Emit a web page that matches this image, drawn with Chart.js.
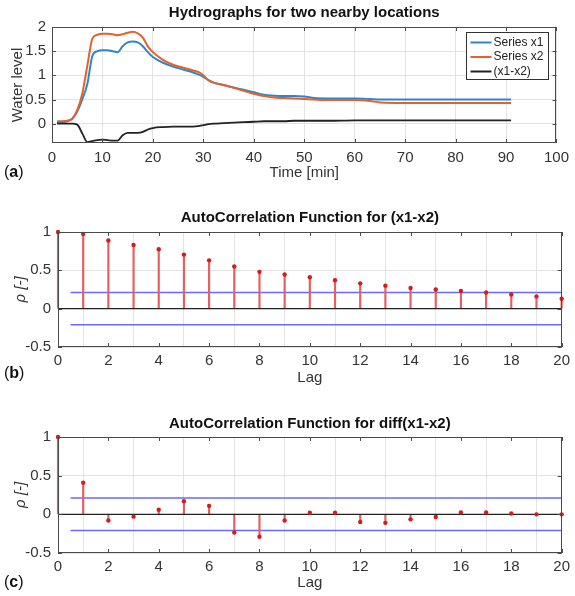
<!DOCTYPE html>
<html>
<head>
<meta charset="utf-8">
<script src="https://cdn.jsdelivr.net/npm/chart.js@4.4.1/dist/chart.umd.min.js"></script>
<style>
  body { margin: 0; background: #fff; width: 575px; height: 596px; position: relative; overflow: hidden;
         font-family: "Liberation Sans", Arial, sans-serif; }
  canvas { position: absolute; left: 0; }
  .tag { position: absolute; left: 4px; font-size: 16px; color: #111; line-height: 18px; }
</style>
</head>
<body>
<canvas id="chartA" width="575" height="192" style="top:0"></canvas>
<canvas id="chartB" width="575" height="196" style="top:200px"></canvas>
<canvas id="chartC" width="575" height="196" style="top:400px"></canvas>
<div class="tag" style="top:163px">(<b>a</b>)</div>
<div class="tag" style="top:364px">(<b>b</b>)</div>
<div class="tag" style="top:573px">(<b>c</b>)</div>
<script>
// hydrograph samples
const timeMin    = [1,2,3,4,5,6,7,8,9,10,11,12,13,14,15,16,17,18,19,20,22,24,26,28,29,30,31,32,34,36,38,40,42,44,46,48,50,52,55,60,63,65,70,80,91];
const seriesX1   = [0.03,0.03,0.05,0.1,0.25,0.5,0.82,1.4,1.5,1.52,1.52,1.5,1.48,1.6,1.68,1.7,1.68,1.6,1.48,1.38,1.26,1.18,1.12,1.06,1.02,0.97,0.9,0.85,0.8,0.75,0.7,0.65,0.6,0.58,0.57,0.57,0.56,0.53,0.52,0.52,0.51,0.5,0.5,0.5,0.5];
const seriesX2   = [0.05,0.05,0.06,0.1,0.28,0.62,1.2,1.76,1.84,1.86,1.86,1.85,1.83,1.85,1.88,1.9,1.87,1.78,1.6,1.48,1.32,1.22,1.16,1.1,1.07,1.0,0.9,0.85,0.8,0.74,0.68,0.62,0.57,0.54,0.53,0.52,0.51,0.5,0.49,0.49,0.47,0.44,0.43,0.43,0.43];
const seriesDiff = [0,0,0,0,-0.02,-0.2,-0.38,-0.36,-0.34,-0.33,-0.34,-0.35,-0.35,-0.24,-0.19,-0.19,-0.19,-0.17,-0.12,-0.09,-0.07,-0.06,-0.06,-0.06,-0.05,-0.03,-0.01,0,0.01,0.02,0.03,0.04,0.05,0.05,0.05,0.06,0.06,0.06,0.06,0.07,0.07,0.07,0.07,0.07,0.07];
const seriesNames = ['Series x1', 'Series x2', '(x1-x2)'];

// autocorrelation values, panels (b) and (c)
const lags    = [0,1,2,3,4,5,6,7,8,9,10,11,12,13,14,15,16,17,18,19,20];
const acfDiff = [1,0.975,0.89,0.83,0.775,0.705,0.63,0.55,0.48,0.445,0.41,0.37,0.33,0.30,0.27,0.25,0.23,0.21,0.185,0.16,0.13];
const acfDDiff = [1,0.41,-0.08,-0.03,0.06,0.17,0.11,-0.235,-0.29,-0.08,0.02,0.02,-0.10,-0.11,-0.065,-0.035,0.025,0.025,0.01,0,0];
const confBound = 0.21;
const confRange = [0.5, 20];

const timeTicks = [0,10,20,30,40,50,60,70,80,90,100];
const levelTicks = [0,0.5,1,1.5,2];
const lagTicks = [0,2,4,6,8,10,12,14,16,18,20];
const rhoTicks = [-0.5,0,0.5,1];

Chart.defaults.font.family = '"Liberation Sans", Arial, sans-serif';
Chart.defaults.color = '#333';
Chart.defaults.animation = false;

const BLUE = '#2e86c9', ORANGE = '#e2622c', DARK = '#222';

// matlab style axes box, inward ticks and in-plot legend
const matlabBox = {
  id: 'matlabBox',
  afterDatasetsDraw(chart, args, opts) {
    const {ctx, chartArea: a, scales} = chart;
    ctx.save();
    ctx.strokeStyle = '#4a4a4a';
    ctx.lineWidth = 1;
    ctx.strokeRect(Math.round(a.left) + 0.5, Math.round(a.top) + 0.5, Math.round(a.width) - 1, Math.round(a.height) - 1);
    ctx.beginPath();
    scales.x.ticks.forEach(t => {
      const px = Math.round(scales.x.getPixelForValue(t.value)) + 0.5;
      ctx.moveTo(px, a.bottom); ctx.lineTo(px, a.bottom - 4);
      ctx.moveTo(px, a.top); ctx.lineTo(px, a.top + 4);
    });
    scales.y.ticks.forEach(t => {
      const py = Math.round(scales.y.getPixelForValue(t.value)) + 0.5;
      ctx.moveTo(a.left, py); ctx.lineTo(a.left + 4, py);
      ctx.moveTo(a.right, py); ctx.lineTo(a.right - 4, py);
    });
    ctx.stroke();

    if (opts.legend) {
      const bx = Math.round(a.right) - 89.5, by = Math.round(a.top) + 5.5, bw = 82, bh = 47;
      ctx.fillStyle = '#fff';
      ctx.fillRect(bx, by, bw, bh);
      ctx.strokeStyle = '#333';
      ctx.strokeRect(bx, by, bw, bh);
      ctx.font = '12px "Liberation Sans", Arial, sans-serif';
      ctx.textBaseline = 'middle';
      chart.data.datasets.forEach((ds, i) => {
        const ry = by + 10 + i * 14.5;
        ctx.strokeStyle = ds.borderColor;
        ctx.lineWidth = 2;
        ctx.beginPath(); ctx.moveTo(bx + 4, ry); ctx.lineTo(bx + 25, ry); ctx.stroke();
        ctx.fillStyle = '#222';
        ctx.fillText(ds.label, bx + 27, ry);
      });
    }
    ctx.restore();
  }
};

function fixTicks(list) {
  return scale => { scale.ticks = list.map(v => ({value: v})); };
}
const plainNum = v => String(+Number(v).toFixed(2));

const gridStyle = {color: '#e3e3e3', drawTicks: false};

// (a) hydrographs
new Chart(document.getElementById('chartA'), {
  type: 'line',
  data: {
    datasets: [
      {label: seriesNames[0], data: timeMin.map((t, i) => ({x: t, y: seriesX1[i]})), borderColor: BLUE, borderWidth: 2, order: 3},
      {label: seriesNames[1], data: timeMin.map((t, i) => ({x: t, y: seriesX2[i]})), borderColor: ORANGE, borderWidth: 2, order: 2},
      {label: seriesNames[2], data: timeMin.map((t, i) => ({x: t, y: seriesDiff[i]})), borderColor: DARK, borderWidth: 1.8, order: 1}
    ]
  },
  options: {
    responsive: false,
    layout: {padding: {left: 0, right: 10, top: 0, bottom: 0}},
    elements: {point: {radius: 0}, line: {cubicInterpolationMode: 'monotone'}},
    plugins: {
      legend: {display: false},
      tooltip: {enabled: false},
      title: {display: true, fullSize: false, text: 'Hydrographs for two nearby locations', color: '#111',
              font: {size: 15, weight: 'bold'}, padding: {top: 4, bottom: 5}},
      matlabBox: {legend: true}
    },
    scales: {
      x: {type: 'linear', min: 0, max: 100, grid: gridStyle, border: {display: false},
          afterBuildTicks: fixTicks(timeTicks),
          afterFit: s => { s.height = 49; },
          ticks: {font: {size: 15}, padding: 6, maxRotation: 0, callback: plainNum},
          title: {display: true, text: 'Time [min]', font: {size: 15}, padding: {top: 0, bottom: 10}}},
      y: {min: -0.4, max: 2, grid: gridStyle, border: {display: false},
          afterBuildTicks: fixTicks(levelTicks),
          afterFit: s => { s.width = 52; },
          ticks: {font: {size: 15}, padding: 6, callback: plainNum},
          title: {display: true, text: 'Water level', font: {size: 15}, padding: {top: 9, bottom: 0}}}
    }
  },
  plugins: [matlabBox]
});

function acfChart(id, title, values, titlePad, axisH, lagPad) {
  return new Chart(document.getElementById(id), {
    type: 'bar',
    data: {
      datasets: [
        {type: 'line', label: 'upper', data: confRange.map(x => ({x, y: confBound})), borderColor: '#6a6af5', borderWidth: 1.5, pointRadius: 0, order: 4},
        {type: 'line', label: 'lower', data: confRange.map(x => ({x, y: -confBound})), borderColor: '#6a6af5', borderWidth: 1.5, pointRadius: 0, order: 4},
        {type: 'line', label: 'zero', data: [{x: lags[0], y: 0}, {x: lags[lags.length - 1], y: 0}], borderColor: DARK, borderWidth: 1.2, pointRadius: 0, order: 1},
        {label: 'stem', data: lags.map((l, i) => ({x: l, y: values[i]})), backgroundColor: '#e46060', barThickness: 1.5, clip: 4, order: 3},
        {type: 'line', label: 'acf', data: lags.map((l, i) => ({x: l, y: values[i]})), showLine: false, clip: 4,
         pointRadius: 2.2, pointBackgroundColor: '#d41c1c', pointBorderWidth: 0, order: 0}
      ]
    },
    options: {
      responsive: false,
      layout: {padding: {left: 0, right: 7, top: 0, bottom: 0}},
      plugins: {
        legend: {display: false},
        tooltip: {enabled: false},
        title: {display: true, fullSize: false, text: title, color: '#111', font: {size: 15, weight: 'bold'}, padding: titlePad}
      },
      scales: {
        x: {type: 'linear', min: 0, max: 20, offset: false, grid: gridStyle, border: {display: false},
            afterBuildTicks: fixTicks(lagTicks),
            afterFit: s => { s.height = axisH; },
            ticks: {font: {size: 15}, padding: 5, maxRotation: 0, callback: plainNum},
            title: {display: true, text: 'Lag', font: {size: 15}, padding: {top: 0, bottom: lagPad}}},
        y: {min: -0.5, max: 1, grid: gridStyle, border: {display: false},
            afterBuildTicks: fixTicks(rhoTicks),
            afterFit: s => { s.width = 58; },
            ticks: {font: {size: 15}, padding: 7, callback: plainNum},
            title: {display: true, text: 'ρ [-]', font: {size: 15, style: 'italic'}, padding: {top: 12, bottom: 0}}}
      }
    },
    plugins: [matlabBox]
  });
}

acfChart('chartB', 'AutoCorrelation Function for (x1-x2)', acfDiff, {top: 9, bottom: 5}, 49, 9);
acfChart('chartC', 'AutoCorrelation Function for diff(x1-x2)', acfDDiff, {top: 15, bottom: 4}, 43, 4);
</script>
</body>
</html>
